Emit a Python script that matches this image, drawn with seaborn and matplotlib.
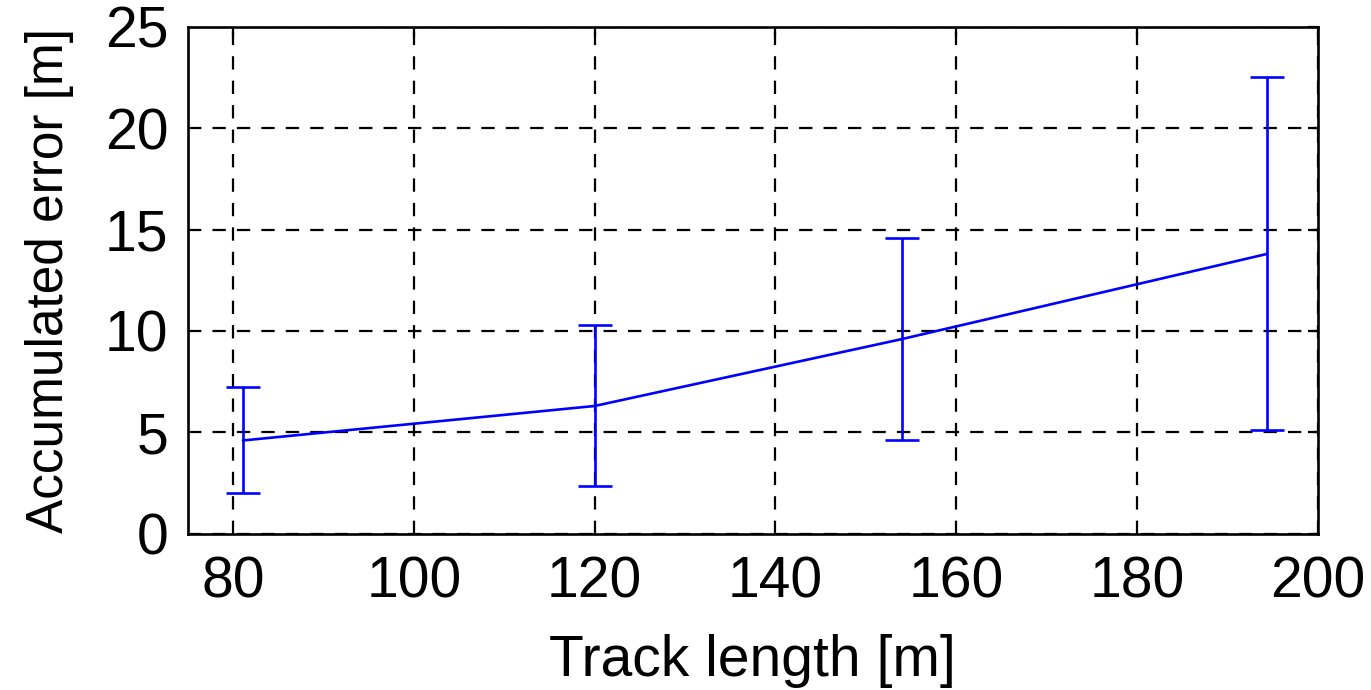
import numpy as np
import pandas as pd
import matplotlib
matplotlib.use("Agg")
import matplotlib.pyplot as plt
import seaborn as sns

# values
track_length = [81.1, 120.0, 154.0, 194.4]
mean_error = [4.6, 6.3, 9.6, 13.8]
lower_error = [2.0, 2.35, 4.6, 5.1]
upper_error = [7.25, 10.3, 14.6, 22.55]

x_ticks = [80, 100, 120, 140, 160, 180, 200]
y_ticks = [0, 5, 10, 15, 20, 25]

sns.set_theme(style="white")
plt.rcParams['font.family'] = ['Liberation Sans', 'DejaVu Sans']

df = pd.DataFrame({"track": track_length, "err": mean_error})

fig = plt.figure(figsize=(13.71, 6.90), dpi=100)
ax = fig.add_axes([0.137, 0.2265, 0.824, 0.7345])

sns.lineplot(data=df, x="track", y="err", color="#0000ff", linewidth=1.9, ax=ax)

yerr = np.array([
    np.array(mean_error) - np.array(lower_error),
    np.array(upper_error) - np.array(mean_error),
])
ax.errorbar(track_length, mean_error, yerr=yerr, fmt="none", ecolor="#0000ff",
            elinewidth=1.9, capsize=12, capthick=1.9)

ax.set_xlim(75, 200)
ax.set_ylim(0, 25)
ax.set_xticks(x_ticks)
ax.set_yticks(y_ticks)

ax.grid(True, color="black", linestyle=(0, (6, 5)), linewidth=1.6)
for s in ax.spines.values():
    s.set_color("black")
    s.set_linewidth(1.9)

ax.tick_params(axis="both", direction="in", length=7, width=1.6, top=True, right=True,
               labelsize=41, colors="black")
ax.tick_params(axis="x", pad=16)
ax.tick_params(axis="y", pad=14)

ax.set_xlabel("Track length [m]", fontsize=41, color="black", labelpad=17)
ax.set_ylabel("Accumulated error [m]", fontsize=37, color="black", labelpad=22)

fig.savefig("out.png", dpi=100)
